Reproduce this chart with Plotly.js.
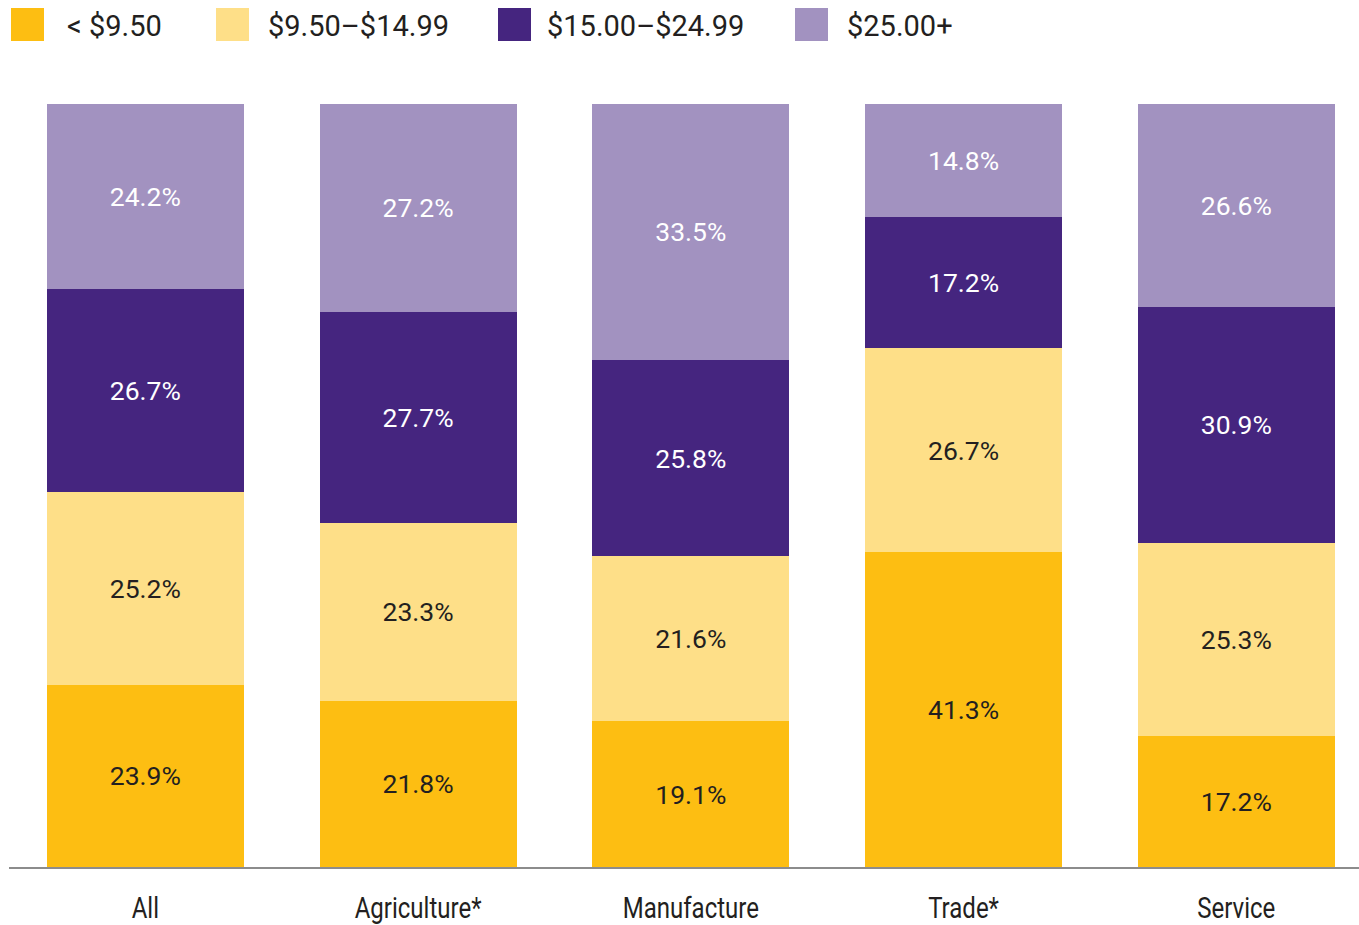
<!DOCTYPE html>
<html>
<head>
<meta charset="utf-8">
<script src="https://cdn.plot.ly/plotly-3.0.1.min.js"></script>
<style>html,body{margin:0;padding:0;background:#fff;}#chart{width:1359px;height:925px;}</style>
</head>
<body>
<div id="chart"></div>
<script>
const categories = ["All", "Agriculture*", "Manufacture", "Trade*", "Service"];
const seriesNames = ["< $9.50", "$9.50–$14.99", "$15.00–$24.99", "$25.00+"];
const under950 = [23.9, 21.8, 19.1, 41.3, 17.2];
const from950to1499 = [25.2, 23.3, 21.6, 26.7, 25.3];
const from1500to2499 = [26.7, 27.7, 25.8, 17.2, 30.9];
const over2500 = [24.2, 27.2, 33.5, 14.8, 26.6];

const seriesValues = [under950, from950to1499, from1500to2499, over2500];
const colors = ["#FDBE12", "#FEDF88", "#45257F", "#A292C0"];
const textColors = ["#231F20", "#231F20", "#FFFFFF", "#FFFFFF"];

const traces = seriesValues.map((vals, i) => ({
  type: "bar",
  name: seriesNames[i],
  x: categories,
  y: vals,
  marker: {color: colors[i], line: {width: 0}},
  text: vals.map(v => v.toFixed(1) + "%"),
  textposition: "inside",
  insidetextanchor: "middle",
  textangle: 0,
  textfont: {family: "Roboto, 'Liberation Sans', sans-serif", size: 26.5, color: textColors[i]},
  hoverinfo: "skip",
  showlegend: false,
  cliponaxis: false
}));

// Plot area in pixels (for legend placement)
const L = 9, R = 1359, T = 104, B = 867;
const px = v => (v - L) / (R - L);
const py = v => (B - v) / (B - T);

const legendBoxes = [11, 216, 498, 795];
const legendText = [65, 266, 545, 845];
const shapes = legendBoxes.map((x0, i) => ({
  type: "rect", xref: "paper", yref: "paper",
  x0: px(x0), x1: px(x0 + 33), y0: py(41), y1: py(8),
  fillcolor: colors[i], line: {width: 0}
}));
const annotations = legendText.map((x0, i) => ({
  xref: "paper", yref: "paper", x: px(x0), y: py(26),
  xanchor: "left", yanchor: "middle", showarrow: false,
  text: seriesNames[i].replace("<", "&lt;"),
  font: {family: "Roboto, 'Liberation Sans', sans-serif", size: 29, color: "#231F20"}
}));

const layout = {
  width: 1359, height: 925,
  margin: {l: L, r: 1359 - R, t: T, b: 925 - B, pad: 0},
  paper_bgcolor: "#fff", plot_bgcolor: "#fff",
  barmode: "stack",
  bargap: 0.2776,
  showlegend: false,
  xaxis: {
    type: "category",
    range: [-0.5, 4.45],
    showline: true, linecolor: "#8C8C8C", linewidth: 2,
    showgrid: false, zeroline: false,
    ticks: "outside", ticklen: 13, tickcolor: "rgba(0,0,0,0)",
    tickfont: {family: "Roboto, 'Liberation Sans', sans-serif", size: 30, color: "#231F20"},
    fixedrange: true
  },
  yaxis: {
    range: [0, 100], visible: false, showgrid: false, zeroline: false, fixedrange: true
  },
  shapes: shapes,
  annotations: annotations
};

Plotly.newPlot("chart", traces, layout, {displayModeBar: false, staticPlot: true}).then(gd => {
  // Condense category labels to mimic the condensed face of the original
  gd.querySelectorAll(".xtick text").forEach(t => {
    const w = t.getComputedTextLength();
    t.setAttribute("textLength", (w * 0.8).toFixed(1));
    t.setAttribute("lengthAdjust", "spacingAndGlyphs");
  });
});
</script>
</body>
</html>
